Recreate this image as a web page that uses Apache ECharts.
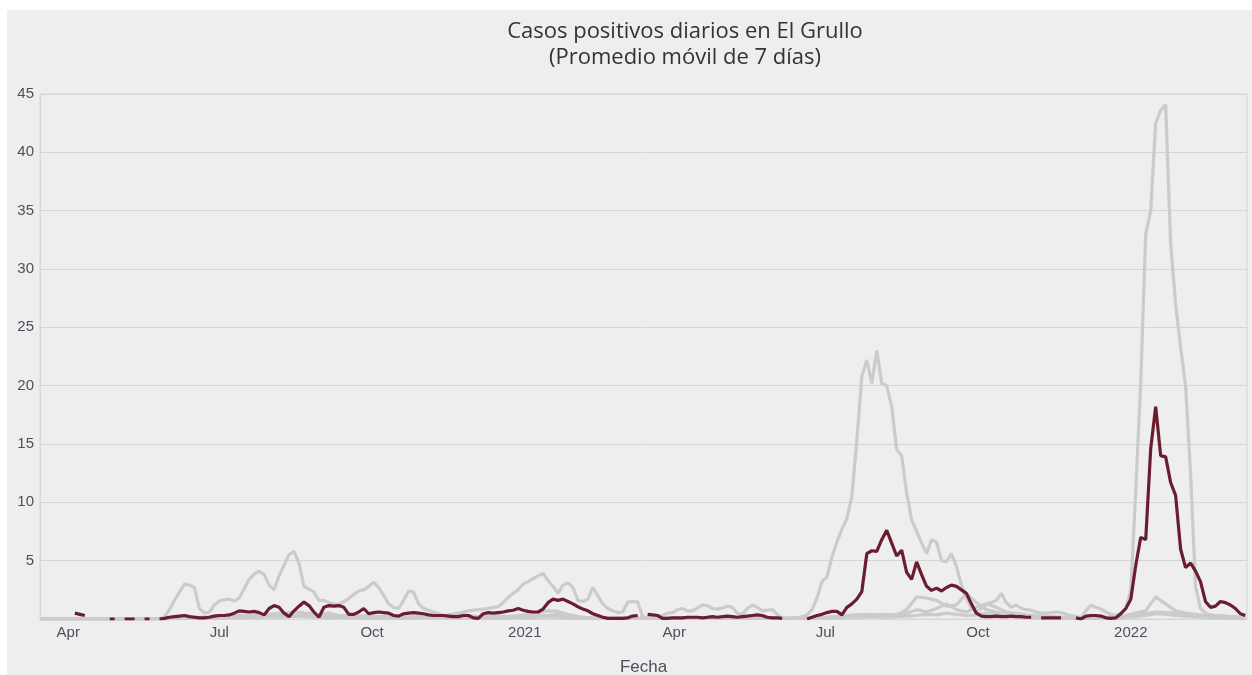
<!DOCTYPE html>
<html>
<head>
<meta charset="utf-8">
<script src="https://cdn.jsdelivr.net/npm/echarts@6/dist/echarts.min.js"></script>
<style>
html,body{margin:0;padding:0;background:#ffffff;}
#chart{position:absolute;left:7px;top:10px;width:1245px;height:665px;}
</style>
</head>
<body>
<div id="chart"></div>
<script>
// ---- data ----
const startDate = [2020, 2, 15];           // 2020-03-15 (first sample)
const mainStepDays = 3;                     // sampling step of the main series
const minorStepDays = 6;                    // sampling step of the low grey series
const xMin = '2020-03-15';
const xMax = '2022-03-12';
const xTickDates = ['2020-04-01','2020-07-01','2020-10-01','2021-01-01','2021-04-01','2021-07-01','2021-10-01','2022-01-01'];
const xTickLabels = ['Apr','Jul','Oct','2021','Apr','Jul','Oct','2022'];
const yTicks = [0,5,10,15,20,25,30,35,40,45];

// El Grullo (7-day moving average), every 3 days
const grulloValues = [
null,null,null,null,null,null,null,0.5,0.4,0.3,
null,null,null,null,0,0,null,0,0,0,
null,0,0,null,0,0.05,0.15,0.2,0.25,0.3,
0.2,0.15,0.1,0.1,0.15,0.25,0.3,0.3,0.35,0.5,
0.7,0.65,0.6,0.65,0.55,0.35,0.9,1.15,1.0,0.5,
0.2,0.7,1.1,1.45,1.15,0.6,0.15,1.0,1.15,1.1,
1.15,1.0,0.4,0.4,0.6,0.9,0.45,0.55,0.6,0.55,
0.5,0.3,0.25,0.45,0.5,0.55,0.5,0.45,0.35,0.3,
0.3,0.3,0.25,0.2,0.2,0.3,0.3,0.1,0.05,0.45,
0.55,0.5,0.55,0.6,0.7,0.75,0.9,0.75,0.65,0.6,
0.6,0.85,1.4,1.7,1.6,1.7,1.5,1.3,1.05,0.85,
0.7,0.45,0.3,0.15,0.05,0.05,0.05,0.05,0.1,0.25,
0.3,null,0.4,0.35,0.3,0.05,0.05,0.1,0.1,0.1,
0.15,0.15,0.15,0.1,0.15,0.2,0.15,0.2,0.25,0.2,
0.15,0.2,0.25,0.3,0.35,0.3,0.15,0.1,0.1,0.05,
null,null,null,null,0,0.15,0.3,0.4,0.55,0.65,
0.65,0.35,1.0,1.3,1.7,2.35,5.6,5.85,5.8,6.8,
7.6,6.5,5.4,5.9,4.0,3.4,4.9,3.8,2.8,2.45,
2.65,2.4,2.7,2.9,2.8,2.5,2.2,1.3,0.5,0.25,
0.2,0.2,0.25,0.2,0.2,0.25,0.2,0.2,0.15,0.15,
null,0.1,0.1,0.1,0.1,0.1,null,null,0.1,0,
0.25,0.3,0.3,0.25,0.1,0.05,0.1,0.45,0.9,1.7,
4.6,7.0,6.8,14.6,18.2,14.0,13.9,11.7,10.6,6.0,
4.4,4.8,4.1,3.2,1.5,1.0,1.1,1.5,1.4,1.2,
0.9,0.45,0.3
];

// Other municipality with the large waves, every 3 days
const greyBigValues = [
0,0,0,0,0,0,0,0,0,0,
0,0,0,0,0,0,0,0,0,0,
0,0,0,0,0,0.2,0.8,1.6,2.3,3.0,
2.9,2.7,0.9,0.5,0.6,1.2,1.55,1.65,1.7,1.55,
1.8,2.6,3.4,3.85,4.1,3.8,2.9,2.5,3.7,4.6,
5.5,5.8,4.8,2.8,2.55,2.3,1.6,1.6,1.4,1.3,
1.25,1.5,1.75,2.1,2.4,2.5,2.8,3.15,2.7,2.0,
1.3,1.0,0.9,1.6,2.4,2.3,1.3,0.9,0.75,0.6,
0.45,0.3,0.15,0.3,0.5,0.6,0.7,0.75,0.8,0.85,
0.9,1.0,1.05,1.4,1.85,2.2,2.5,3.0,3.2,3.45,
3.7,3.9,3.3,2.8,2.2,2.9,3.1,2.7,1.6,1.5,
1.7,2.7,2.0,1.3,0.9,0.7,0.55,0.6,1.45,1.5,
1.45,0.2,0.1,0.1,0.1,0.3,0.5,0.55,0.8,0.9,
0.7,0.7,0.95,1.2,1.15,0.9,0.85,0.95,1.1,1.0,
0.5,0.4,0.9,1.2,1.0,0.7,0.75,0.8,0.4,0.05,
0.05,0.1,0.1,0.2,0.35,0.8,1.8,3.2,3.6,5.3,
6.6,7.7,8.6,10.5,15.3,20.8,22.2,20.2,23.0,20.2,
20.0,18.2,14.5,14.0,10.8,8.5,7.5,6.5,5.6,6.8,
6.6,5.0,4.9,5.6,4.5,2.9,1.8,0.9,0.6,0.9,
1.3,1.4,1.6,2.2,1.4,1.0,1.2,0.9,0.8,0.75,
0.6,0.5,0.5,0.55,0.6,0.55,0.4,0.3,0.2,0.1,
0.7,1.2,1.0,0.85,0.6,0.4,0.3,0.5,0.9,2.5,
11.0,20.3,33.0,35.0,42.5,43.6,44.1,32.2,27.0,23.3,
20.0,12.5,2.8,0.9,0.5,0.35,0.3,0.3,0.25,0.2,
0.2,0.15,0.1
];

// Low grey municipalities, every 6 days
const greyMidValues = [
0,0,0,0,0,0,0,0,0,0,
0,0,0,0.1,0.2,0.2,0.15,0.2,0.3,0.25,
0.3,0.35,0.3,0.4,0.5,0.55,0.6,0.4,0.3,0.5,
0.3,0.3,0.25,0.3,0.2,0.2,0.3,0.2,0.15,0.1,
0.2,0.35,0.5,0.3,0.2,0.2,0.25,0.2,0.3,0.4,
0.6,0.7,0.65,0.4,0.2,0.1,0.1,0.05,0.05,0.1,
0.05,0.1,0.05,0.05,0.1,0.05,0.05,0.05,0.05,0.05,
0.05,0.05,0.05,0.05,0.05,0.05,0.05,0.05,0.1,0.15,
0.2,0.3,0.35,0.4,0.35,0.4,0.35,0.8,1.9,1.8,
1.6,1.1,1.2,2.2,1.4,0.8,0.6,0.4,0.3,0.25,
0.2,0.2,0.15,0.1,0.1,0.1,0.1,0.15,0.2,0.3,
0.5,0.7,1.9,1.3,0.7,0.5,0.4,0.3,0.2,0.15,
0.1,0.05
];
const greyLowValues = [
0,0,0,0,0,0,0,0,0,0,
0,0,0,0.05,0.1,0.1,0.1,0.15,0.1,0.2,
0.15,0.2,0.25,0.2,0.3,0.35,0.3,0.5,0.35,0.2,
0.25,0.15,0.2,0.15,0.1,0.15,0.1,0.1,0.2,0.3,
0.25,0.2,0.1,0.15,0.1,0.15,0.1,0.2,0.25,0.3,
0.35,0.3,0.4,0.25,0.15,0.1,0.05,0.05,0.1,0.05,
0.05,0.05,0.1,0.05,0.05,0.05,0.1,0.05,0.05,0.05,
0.05,0.1,0.05,0.05,0.05,0.05,0.05,0.05,0.1,0.15,
0.2,0.2,0.25,0.3,0.3,0.35,0.4,0.5,0.8,0.6,
0.9,1.3,0.8,0.6,1.0,1.3,1.0,0.6,0.5,0.35,
0.3,0.25,0.2,0.15,0.1,0.15,0.2,0.1,0.15,0.2,
0.3,0.45,0.6,0.55,0.5,0.35,0.3,0.25,0.2,0.2,
0.15,0.1
];
const greyFlatValues = [
0,0,0,0,0,0,0,0,0,0,
0,0,0,0,0.05,0.05,0.1,0.1,0.05,0.1,
0.1,0.15,0.1,0.2,0.15,0.2,0.25,0.2,0.15,0.1,
0.15,0.1,0.1,0.05,0.05,0.1,0.05,0.05,0.1,0.15,
0.1,0.1,0.05,0.1,0.05,0.1,0.05,0.1,0.15,0.1,
0.15,0.2,0.15,0.1,0.05,0.05,0.05,0.05,0.05,0.05,
0.05,0.05,0.05,0.05,0.05,0.05,0.05,0.05,0.05,0.05,
0.05,0.05,0.05,0.05,0.05,0.05,0.05,0.05,0.05,0.1,
0.1,0.15,0.15,0.2,0.2,0.15,0.2,0.25,0.3,0.4,
0.35,0.5,0.4,0.3,0.35,0.5,0.4,0.3,0.2,0.15,
0.1,0.1,0.1,0.05,0.05,0.05,0.05,0.1,0.1,0.15,
0.2,0.3,0.45,0.4,0.3,0.25,0.2,0.15,0.1,0.1,
0.05,0.05
];

// ---- build ----
function toPairs(values, step) {
  return values.map(function (v, i) {
    const d = new Date(startDate[0], startDate[1], startDate[2] + i * step);
    return [d.getTime(), v];
  });
}
function parseDay(s) {
  const p = s.split('-').map(Number);
  return new Date(p[0], p[1] - 1, p[2]).getTime();
}
const tickTimes = xTickDates.map(parseDay);

const GREY = '#cbcbcb';
const MAROON = '#6b1d30';
function greySeries(values, step) {
  return {
    type: 'line', data: toPairs(values, step), showSymbol: false, symbol: 'none',
    lineStyle: { color: GREY, width: 3.2 }, connectNulls: false, silent: true, z: 2
  };
}

const chart = echarts.init(document.getElementById('chart'));
chart.setOption({
  animation: false,
  backgroundColor: '#eeeeee',
  title: {
    text: 'Casos positivos diarios en El Grullo\n(Promedio móvil de 7 días)',
    left: 673, top: 4, textAlign: 'center',
    textStyle: { fontFamily: 'Open Sans', fontSize: 22, fontWeight: 'normal', color: '#333333', lineHeight: 26 }
  },
  grid: { left: 33, right: 5, top: 84, bottom: 56, outerBoundsMode: 'none', containLabel: false,
          show: true, borderColor: '#d6d6d6', borderWidth: 1, backgroundColor: 'transparent' },
  xAxis: {
    type: 'value',
    min: parseDay(xMin), max: parseDay(xMax),
    name: 'Fecha', nameLocation: 'middle', nameGap: 40,
    nameTextStyle: { fontFamily: 'Liberation Sans', fontSize: 17, color: '#4a505c' },
    axisLine: { show: true, lineStyle: { color: '#d6d6d6' } },
    axisTick: { show: false },
    splitLine: { show: false },
    axisLabel: {
      customValues: tickTimes,
      margin: 6,
      fontFamily: 'Liberation Sans', fontSize: 15, color: '#4a505c',
      formatter: function (v) {
        let best = -1, bd = Infinity;
        for (let k = 0; k < tickTimes.length; k++) {
          const d = Math.abs(tickTimes[k] - v);
          if (d < bd) { bd = d; best = k; }
        }
        return bd < 86400000 ? xTickLabels[best] : '';
      }
    }
  },
  yAxis: {
    type: 'value', min: yTicks[0], max: yTicks[yTicks.length - 1], interval: 5,
    axisLine: { show: true, lineStyle: { color: '#d6d6d6' } },
    axisTick: { show: false },
    splitLine: { show: true, lineStyle: { color: '#d6d6d6', width: 1 } },
    axisLabel: {
      margin: 6, fontFamily: 'Liberation Sans', fontSize: 15, color: '#4a505c',
      formatter: function (v) { return v === 0 ? '' : String(v); }
    }
  },
  series: [
    greySeries(greyFlatValues, minorStepDays),
    greySeries(greyLowValues, minorStepDays),
    greySeries(greyMidValues, minorStepDays),
    greySeries(greyBigValues, mainStepDays),
    {
      name: 'El Grullo', type: 'line', data: toPairs(grulloValues, mainStepDays),
      showSymbol: false, symbol: 'none', connectNulls: false, z: 5,
      lineStyle: { color: MAROON, width: 3.2 }
    }
  ]
});
</script>
</body>
</html>
